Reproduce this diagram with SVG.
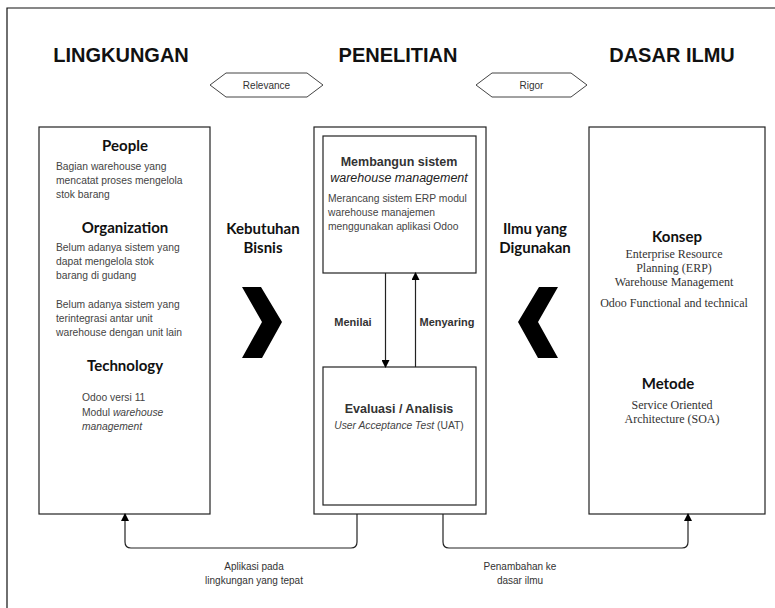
<svg xmlns="http://www.w3.org/2000/svg" width="775" height="608" viewBox="0 0 775 608">
<defs>
<marker id="ah" markerWidth="8" markerHeight="8" refX="7" refY="4" orient="auto" markerUnits="userSpaceOnUse">
<path d="M0,0 L8,4 L0,8 Z" fill="#000"/>
</marker>
<style>
.box{fill:#fff;stroke:#222;stroke-width:1.2}
.hex{fill:#fff;stroke:#444;stroke-width:1}
.title{font-family:"Liberation Sans",Arial,sans-serif;font-weight:bold;font-size:20px;fill:#111;text-anchor:middle}
.head{font-family:"Lato","Liberation Sans",sans-serif;font-weight:bold;font-size:15px;fill:#111;text-anchor:middle}
.hd2{font-family:"Liberation Sans",Arial,sans-serif;font-weight:bold;font-size:12.5px;fill:#333;text-anchor:middle}
.body{font-family:"Liberation Sans",Arial,sans-serif;font-size:10.3px;fill:#444}
.serif{font-family:"Liberation Serif","Times New Roman",serif;font-size:12px;fill:#333;text-anchor:middle}
.lbl{font-family:"Liberation Sans",Arial,sans-serif;font-size:10px;fill:#333;text-anchor:middle}
.conn{fill:none;stroke:#222;stroke-width:1.2}
.it{font-style:italic}
</style>
</defs>
<rect width="775" height="608" fill="#fff"/>
<path d="M7,608 V8 H775" fill="none" stroke="#111" stroke-width="1.2"/>

<g id="titles">
<text class="title" x="121" y="62">LINGKUNGAN</text>
<text class="title" x="398" y="62">PENELITIAN</text>
<text class="title" x="672" y="62">DASAR ILMU</text>
</g>

<g id="relevance">
<polygon class="hex" points="210,85 226,73 307,73 323,85 307,97 226,97"/>
<text class="lbl" x="266.5" y="89">Relevance</text>
</g>
<g id="rigor">
<polygon class="hex" points="476,85 492,73 571,73 587,85 571,97 492,97"/>
<text class="lbl" x="531.5" y="89">Rigor</text>
</g>

<g id="lingkungan">
<rect class="box" x="39" y="127" width="171" height="387"/>
<text class="head" x="125" y="151">People</text>
<text class="body" x="56" y="170">Bagian warehouse yang</text>
<text class="body" x="56" y="184">mencatat proses mengelola</text>
<text class="body" x="56" y="198">stok barang</text>
<text class="head" x="125" y="233">Organization</text>
<text class="body" x="56" y="251">Belum adanya sistem yang</text>
<text class="body" x="56" y="265">dapat mengelola stok</text>
<text class="body" x="56" y="279">barang di gudang</text>
<text class="body" x="56" y="308">Belum adanya sistem yang</text>
<text class="body" x="56" y="322">terintegrasi antar unit</text>
<text class="body" x="56" y="336">warehouse dengan unit lain</text>
<text class="head" x="125" y="371">Technology</text>
<text class="body" x="82" y="401">Odoo versi 11</text>
<text class="body" x="82" y="416">Modul <tspan class="it">warehouse</tspan></text>
<text class="body it" x="82" y="430">management</text>
</g>

<g id="penelitian">
<rect class="box" x="314" y="127" width="172" height="387"/>
</g>
<g id="membangun">
<rect class="box" x="323" y="136" width="153" height="137"/>
<text class="hd2" x="399" y="166">Membangun sistem</text>
<text x="399" y="182" style="font-family:'Liberation Sans',Arial,sans-serif;font-size:12.5px;font-style:italic;fill:#222;text-anchor:middle">warehouse management</text>
<text class="body" x="328" y="202">Merancang sistem ERP modul</text>
<text class="body" x="328" y="216">warehouse manajemen</text>
<text class="body" x="328" y="230">menggunakan aplikasi Odoo</text>
</g>
<g id="evaluasi">
<rect class="box" x="323" y="367" width="153" height="138"/>
<text class="hd2" x="399" y="413">Evaluasi / Analisis</text>
<text class="body" x="399" y="429" style="text-anchor:middle"><tspan class="it">User Acceptance Test</tspan> (UAT)</text>
</g>

<g id="dasar-ilmu">
<rect class="box" x="589" y="127" width="176" height="387"/>
<text class="head" x="677" y="242">Konsep</text>
<text class="serif" x="674" y="258">Enterprise Resource</text>
<text class="serif" x="674" y="272">Planning (ERP)</text>
<text class="serif" x="674" y="286">Warehouse Management</text>
<text class="serif" x="674" y="307">Odoo Functional and technical</text>
<text class="head" x="668" y="389">Metode</text>
<text class="serif" x="672" y="409">Service Oriented</text>
<text class="serif" x="672" y="423">Architecture (SOA)</text>
</g>

<g id="kebutuhan">
<text class="head" x="263" y="234">Kebutuhan</text>
<text class="head" x="263" y="253">Bisnis</text>
<polygon points="242,287 261,287 282,322 262,358 242,358 262,322" fill="#000"/>
</g>
<g id="ilmu">
<text class="head" x="535" y="234">Ilmu yang</text>
<text class="head" x="535" y="253">Digunakan</text>
<polygon points="558,287 539,287 518,322 538,358 558,358 538,322" fill="#000"/>
</g>

<g id="connectors">
<line class="conn" x1="385.5" y1="273" x2="385.5" y2="367" marker-end="url(#ah)"/>
<line class="conn" x1="415.5" y1="367" x2="415.5" y2="273" marker-end="url(#ah)"/>
<path class="conn" d="M357,514 V542 Q357,548 351,548 H131 Q125,548 125,542 V514" marker-end="url(#ah)"/>
<path class="conn" d="M443,514 V542 Q443,548 449,548 H682 Q688,548 688,542 V514" marker-end="url(#ah)"/>
<text class="hd2" x="353" y="326" style="font-size:11px">Menilai</text>
<text class="hd2" x="447" y="326" style="font-size:11px">Menyaring</text>
<text class="lbl" x="254" y="570">Aplikasi pada</text>
<text class="lbl" x="254" y="584">lingkungan yang tepat</text>
<text class="lbl" x="520" y="570">Penambahan ke</text>
<text class="lbl" x="520" y="584">dasar ilmu</text>
</g>
</svg>
